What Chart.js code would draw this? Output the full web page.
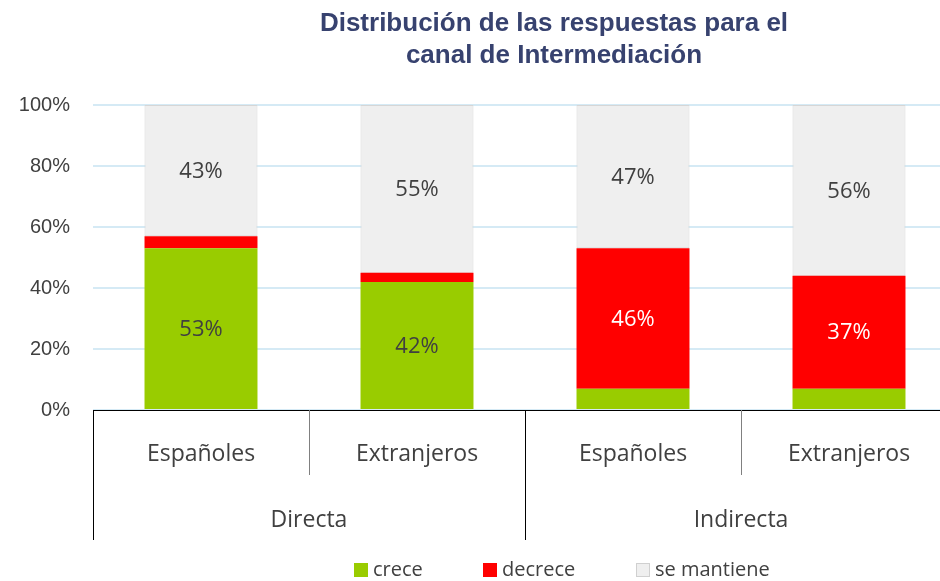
<!DOCTYPE html>
<html>
<head>
<meta charset="utf-8">
<script src="https://cdn.jsdelivr.net/npm/chart.js@4.4.1/dist/chart.umd.min.js"></script>
<style>
  html, body { margin: 0; padding: 0; background: #fff; }
  body { width: 940px; height: 581px; overflow: hidden; position: relative; }
  #wrap { position: absolute; left: 0; top: 0; width: 1000px; height: 581px; }
  #title { position: absolute; left: 254px; top: 6px; width: 600px; text-align: center;
    font: bold 26px "Liberation Sans", Arial, sans-serif; line-height: 32px; color: #37426f; white-space: nowrap; }
  .leg { position: absolute; top: 558px; font: 20px "Open Sans", sans-serif; color: #404040; line-height: 22px; white-space: nowrap; }
  .leg i { display: inline-block; width: 14px; height: 14px; margin-right: 5px; vertical-align: -1px; box-sizing: border-box; }
</style>
</head>
<body>
<div id="wrap"><canvas id="c" width="1000" height="581"></canvas></div>
<div id="title">Distribución de las respuestas para el<br>canal de Intermediación</div>
<div id="legend"></div>
<script>
// ---- data ----
const categories = ["Españoles", "Extranjeros", "Españoles", "Extranjeros"];
const groups = ["Directa", "Indirecta"];
const groupSize = 2;
const crece = [53, 42, 7, 7];
const decrece = [4, 3, 46, 37];
const seMantiene = [43, 55, 47, 56];
const seriesNames = ["crece", "decrece", "se mantiene"];
const yTicks = [0, 20, 40, 60, 80, 100];

const colors = ["#99cc00", "#ff0000", "#efefef"];
const labelColors = ["#404040", "#ffffff", "#404040"];

// HTML legend
const legendX = [354, 483, 636];
const legendEl = document.getElementById('legend');
seriesNames.forEach((n, i) => {
  const d = document.createElement('div');
  d.className = 'leg';
  d.style.left = legendX[i] + 'px';
  const border = i === 2 ? 'border:1px solid #d0d0d0;' : '';
  d.innerHTML = '<i style="background:' + colors[i] + ';' + border + '"></i>' + n;
  legendEl.appendChild(d);
});

const valueLabels = {
  id: 'valueLabels',
  afterDatasetsDraw(chart) {
    const ctx = chart.ctx;
    ctx.save();
    ctx.font = '22px "Open Sans", sans-serif';
    ctx.textAlign = 'center';
    ctx.textBaseline = 'middle';
    chart.data.datasets.forEach((ds, di) => {
      const meta = chart.getDatasetMeta(di);
      meta.data.forEach((el, j) => {
        const v = ds.data[j];
        if (v < 10) return;
        ctx.fillStyle = labelColors[di];
        ctx.fillText(v + '%', el.x, (el.y + el.base) / 2 + 1);
      });
    });
    ctx.restore();
  }
};

const dividers = {
  id: 'dividers',
  afterDraw(chart) {
    const x = chart.scales.x, x2 = chart.scales.x2;
    const n = categories.length;
    const ctx = chart.ctx;
    ctx.save();
    ctx.lineWidth = 1;
    for (let i = 0; i <= n; i++) {
      let px;
      if (i === 0) px = x.left;
      else if (i === n) px = x.right;
      else px = (x.getPixelForValue(i - 1) + x.getPixelForValue(i)) / 2;
      px = Math.round(px) + 0.5;
      const isGroup = i % groupSize === 0;
      ctx.strokeStyle = isGroup ? '#000000' : '#808080';
      ctx.beginPath();
      ctx.moveTo(px, x.top);
      ctx.lineTo(px, isGroup ? x2.bottom : x.bottom);
      ctx.stroke();
    }
    ctx.restore();
  }
};

new Chart(document.getElementById('c'), {
  type: 'bar',
  data: {
    labels: categories,
    datasets: [
      { label: seriesNames[0], data: crece, backgroundColor: colors[0], borderWidth: 0 },
      { label: seriesNames[1], data: decrece, backgroundColor: colors[1], borderWidth: 0 },
      { label: seriesNames[2], data: seMantiene, backgroundColor: colors[2], borderColor: '#d6d6d6', borderWidth: 1, borderSkipped: false }
    ]
  },
  options: {
    responsive: false,
    animation: false,
    events: [],
    layout: { padding: { top: 105, left: 0, right: 43, bottom: 41 } },
    datasets: { bar: { categoryPercentage: 1, barPercentage: 0.523 } },
    plugins: { legend: { display: false }, title: { display: false }, tooltip: { enabled: false } },
    scales: {
      x: {
        stacked: true,
        grid: { display: false },
        border: { display: true, color: '#000000', width: 1 },
        ticks: { font: { family: '"Open Sans", sans-serif', size: 23 }, color: '#404040', padding: 23, maxRotation: 0, autoSkip: false },
        afterFit(s) { s.height = 65; }
      },
      x2: {
        type: 'category',
        labels: groups,
        position: 'bottom',
        grid: { display: false },
        border: { display: false },
        ticks: { font: { family: '"Open Sans", sans-serif', size: 23 }, color: '#404040', padding: 24, maxRotation: 0 },
        afterFit(s) { s.height = 65; }
      },
      y: {
        stacked: true,
        min: 0, max: 100,
        afterBuildTicks(s) { s.ticks = yTicks.map(v => ({ value: v })); },
        grid: { color: '#d5eaf5', lineWidth: 2, drawTicks: false },
        border: { display: false },
        ticks: { font: { family: '"Liberation Sans", Arial, sans-serif', size: 20 }, color: '#404040', padding: 23, callback: v => v + '%' },
        afterFit(s) { s.width = 93; }
      }
    }
  },
  plugins: [valueLabels, dividers]
});
</script>
</body>
</html>
